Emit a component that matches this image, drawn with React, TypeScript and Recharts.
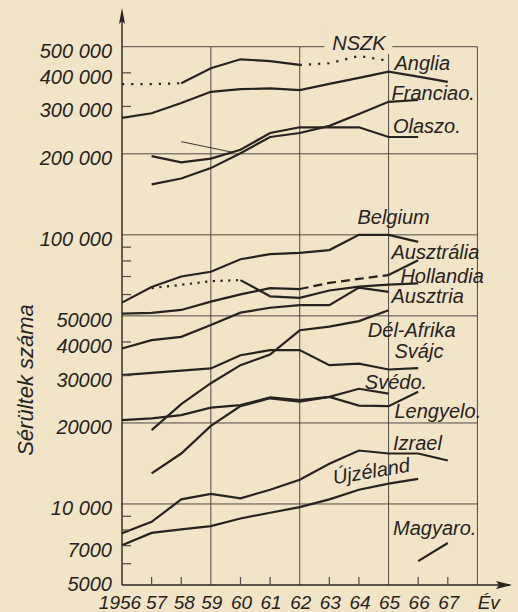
import {
  Label,
  Line,
  LineChart,
  ReferenceDot,
  ReferenceLine,
  XAxis,
  YAxis,
} from "recharts";

const evek = [1956, 1957, 1958, 1959, 1960, 1961, 1962, 1963, 1964, 1965, 1966, 1967];

// sérültek száma évenként, null = nincs adat
const nszk = [null, null, 366000, 416000, 449000, 442000, 428000, null, null, null, null, null];
const nszkBecsult = [363000, 363000, 366000, null, null, null, 428000, 434000, 462000, 443000, null, null];
const anglia = [272000, 283000, 309000, 340000, 348000, 350000, 345000, 364000, 383000, 404000, 387000, 370000];
const franciao = [null, 154000, 162000, 177000, 201000, 231000, 239000, 254000, 281000, 312000, 317000, null];
const olaszo = [null, 196000, 186000, 192000, 207000, 239000, 251000, 251000, 251000, 231000, 231000, null];
const belgium = [56000, 64000, 70000, 72900, 81200, 84800, 85700, 87800, 100000, 100000, 94200, null];
const ausztralia = [51000, 51300, 52600, 56500, 60100, 63400, 62900, null, null, 70900, 80500, null];
const ausztraliaBecsult = [null, null, null, null, null, null, 62900, 66300, 68600, 70900, null, null];
const hollandia = [null, null, null, null, 67900, 59100, 58300, 62100, 64200, 65300, 66000, null];
const hollandiaBecsult = [null, 63400, 65200, 67300, 67900, null, null, null, null, null, null, null];
const ausztria = [37800, 40600, 41800, 46200, 51400, 53600, 54800, 54800, 63700, 61400, null, null];
const delAfrika = [null, 18800, 23500, 28100, 32800, 35900, 44200, 45600, 47800, 52500, null, null];
const svajc = [30100, 30700, 31300, 31900, 35700, 37300, 37300, 32800, 33200, 31600, 32000, null];
const svedo = [20500, 20800, 21400, 22800, 23300, 24900, 24300, 25000, 26800, 25700, null, null];
const lengyelo = [null, 13000, 15400, 19500, 23100, 24700, 24000, 25000, 23200, 23100, 26100, null];
const izrael = [7790, 8580, 10400, 10900, 10500, 11300, 12300, 14100, 15800, 15400, 15400, 14500];
const ujzeland = [7020, 7810, 8050, 8270, 8830, 9280, 9730, 10400, 11300, 11900, 12400, null];
const magyaro = [null, null, null, null, null, null, null, null, null, null, 6130, 7160];

// vékony ceruzás vonás a 200 000-es szint fölött
const vekonyEvek = [1958, 1959.7];
const vekonyErtekek = [222000, 203000];

const xTickErtekek = [...evek, 1968.35];
const xTickFeliratok = ["1956", "57", "58", "59", "60", "61", "62", "63", "64", "65", "66", "67", "Év"];
const yTickErtekek = [
  500000, 400000, 300000, 200000, 100000, 90000, 80000, 70000, 60000, 50000,
  40000, 30000, 20000, 10000, 9000, 8000, 7000, 6000, 5000,
];
const yTickFeliratok = [
  "500 000", "400 000", "300 000", "200 000", "100 000", "", "", "", "", "50000",
  "40000", "30000", "20000", "10 000", "", "", "7000", "", "5000",
];
const yRacsok = [500000, 200000, 100000, 50000, 20000, 10000];
const xRacsok = [1959, 1962, 1965, 1968];

const cimkek = [
  { nev: "NSZK", ev: 1963.1, ertek: 486000 },
  { nev: "Anglia", ev: 1965.2, ertek: 410000 },
  { nev: "Franciao.", ev: 1965.1, ertek: 317000 },
  { nev: "Olaszo.", ev: 1965.15, ertek: 239000 },
  { nev: "Belgium", ev: 1963.95, ertek: 109700 },
  { nev: "Ausztrália", ev: 1965.1, ertek: 81300 },
  { nev: "Hollandia", ev: 1965.4, ertek: 66200 },
  { nev: "Ausztria", ev: 1965.1, ertek: 55800 },
  { nev: "Dél-Afrika", ev: 1964.3, ertek: 41600 },
  { nev: "Svájc", ev: 1965.2, ertek: 34800 },
  { nev: "Svédo.", ev: 1964.2, ertek: 26700 },
  { nev: "Lengyelo.", ev: 1965.2, ertek: 20900 },
  { nev: "Izrael", ev: 1965.15, ertek: 15900 },
  { nev: "Újzéland", ev: 1964.45, ertek: 12500 },
  { nev: "Magyaro.", ev: 1965.15, ertek: 7670 },
];

const sorozatok = [
  { kulcs: "nszk", ertekek: nszk },
  { kulcs: "nszkBecsult", ertekek: nszkBecsult, szaggatas: "2.2 7" },
  { kulcs: "anglia", ertekek: anglia },
  { kulcs: "franciao", ertekek: franciao },
  { kulcs: "olaszo", ertekek: olaszo },
  { kulcs: "belgium", ertekek: belgium },
  { kulcs: "ausztralia", ertekek: ausztralia },
  { kulcs: "ausztraliaBecsult", ertekek: ausztraliaBecsult, szaggatas: "9 5" },
  { kulcs: "hollandia", ertekek: hollandia },
  { kulcs: "hollandiaBecsult", ertekek: hollandiaBecsult, szaggatas: "2.2 5.5" },
  { kulcs: "ausztria", ertekek: ausztria },
  { kulcs: "delAfrika", ertekek: delAfrika },
  { kulcs: "svajc", ertekek: svajc },
  { kulcs: "svedo", ertekek: svedo },
  { kulcs: "lengyelo", ertekek: lengyelo },
  { kulcs: "izrael", ertekek: izrael },
  { kulcs: "ujzeland", ertekek: ujzeland },
  { kulcs: "magyaro", ertekek: magyaro },
];

const adatok = evek.map((ev, i) => {
  const sor: Record<string, number | null> = { ev };
  sorozatok.forEach((s) => (sor[s.kulcs] = s.ertekek[i]));
  return sor;
});

const vekonyAdat = vekonyEvek.map((ev, i) => ({ ev, v: vekonyErtekek[i] }));

const PAPIR = "#f2e4c7";
const TUS = "#27231f";
const RACS = "#4f4a44";
const betu = {
  fontFamily: "'Liberation Sans', Arial, sans-serif",
  fontStyle: "italic" as const,
  fontSize: 20,
  fill: TUS,
};

const YTick = ({ x, y, payload }: any) => {
  const i = yTickErtekek.indexOf(payload.value);
  const felirat = yTickFeliratok[i];
  const kisJel = !yRacsok.includes(payload.value) && payload.value !== 5000;
  // a legalsó felirat kicsit feljebb ül, hogy ne érjen az évszámokhoz
  const dy = payload.value === 5000 ? 6 : 11;
  return (
    <g>
      {kisJel && <line x1={x} x2={x + 9} y1={y} y2={y} stroke={RACS} strokeWidth={1.2} />}
      {felirat && (
        <text x={x - 10} y={y + dy} textAnchor="end" {...betu}>
          {felirat}
        </text>
      )}
    </g>
  );
};

const XTick = ({ x, y, payload }: any) => {
  const i = xTickErtekek.indexOf(payload.value);
  const ev = payload.value;
  const kisJel = Number.isInteger(ev) && ev <= 1967 && ![1956, 1959, 1962, 1965].includes(ev);
  const dx = ev === 1956 ? -2 : ev === 1957 ? 5 : ev === 1958 ? 3 : 1;
  return (
    <g>
      {kisJel && <line x1={x} x2={x} y1={y} y2={y - 8} stroke={RACS} strokeWidth={1.2} />}
      <text x={x + dx} y={y + 24} textAnchor="middle" {...betu} fontSize={19}>
        {xTickFeliratok[i]}
      </text>
    </g>
  );
};

const Cimke = ({ cx, cy, nev }: any) => {
  if (nev === "Újzéland") {
    return (
      <text x={cx} y={cy} textAnchor="middle" transform={`rotate(-9.5 ${cx} ${cy})`} {...betu}>
        {nev}
      </text>
    );
  }
  return (
    <g>
      {nev === "NSZK" && <rect x={cx - 8} y={cy - 20} width={68} height={24} fill={PAPIR} />}
      <text x={cx} y={cy} {...betu}>
        {nev}
      </text>
    </g>
  );
};

export default function App() {
  return (
    <div style={{ position: "absolute", left: 0, top: 0, width: 518, height: 612, background: PAPIR }}>
      <LineChart
        width={518}
        height={612}
        data={adatok}
        margin={{ top: 12, right: 8, bottom: 0, left: 0 }}
      >
        <XAxis
          dataKey="ev"
          type="number"
          domain={[1956, 1969.1]}
          ticks={xTickErtekek}
          interval={0}
          height={27}
          tickSize={0}
          tickMargin={0}
          tickLine={false}
          axisLine={{ stroke: TUS, strokeWidth: 1.4 }}
          tick={<XTick />}
        />
        <YAxis
          type="number"
          scale="log"
          domain={[5000, 673000]}
          ticks={yTickErtekek}
          interval={0}
          width={122}
          tickSize={0}
          tickMargin={0}
          tickLine={false}
          axisLine={{ stroke: TUS, strokeWidth: 1.4 }}
          tick={<YTick />}
        >
          <Label
            content={() => (
              <text
                transform="translate(33 380) rotate(-90)"
                textAnchor="middle"
                {...betu}
                fontSize={22}
              >
                Sérültek száma
              </text>
            )}
          />
        </YAxis>

        {yRacsok.map((v) => (
          <ReferenceLine
            key={`y${v}`}
            segment={[
              { x: 1956, y: v },
              { x: 1968, y: v },
            ]}
            stroke={RACS}
            strokeWidth={1}
          />
        ))}
        {xRacsok.map((ev) => (
          <ReferenceLine
            key={`x${ev}`}
            segment={[
              { x: ev, y: 5000 },
              { x: ev, y: 500000 },
            ]}
            stroke={RACS}
            strokeWidth={1}
          />
        ))}

        {sorozatok.map((s) => (
          <Line
            key={s.kulcs}
            dataKey={s.kulcs}
            type="linear"
            stroke={TUS}
            strokeWidth={2.2}
            strokeDasharray={s.szaggatas}
            dot={false}
            connectNulls={false}
            isAnimationActive={false}
          />
        ))}
        <Line
          data={vekonyAdat}
          dataKey="v"
          type="linear"
          stroke={TUS}
          strokeWidth={0.9}
          dot={false}
          isAnimationActive={false}
        />

        {cimkek.map((c) => (
          <ReferenceDot
            key={c.nev}
            x={c.ev}
            y={c.ertek}
            r={1}
            ifOverflow="visible"
            shape={(p: any) => <Cimke cx={p.cx} cy={p.cy} nev={c.nev} />}
          />
        ))}

        {/* tengelyek nyilai */}
        <ReferenceDot
          x={1956}
          y={673000}
          r={1}
          ifOverflow="visible"
          shape={(p: any) => (
            <path
              d={`M${p.cx},${p.cy - 4} L${p.cx - 3},${p.cy + 12} L${p.cx},${p.cy + 9} L${p.cx + 3},${p.cy + 12} Z`}
              fill={TUS}
            />
          )}
        />
        <ReferenceDot
          x={1969.1}
          y={5000}
          r={1}
          ifOverflow="visible"
          shape={(p: any) => (
            <path
              d={`M${p.cx + 2},${p.cy} L${p.cx - 14},${p.cy - 4} L${p.cx - 11},${p.cy} L${p.cx - 14},${p.cy + 4} Z`}
              fill={TUS}
            />
          )}
        />
      </LineChart>
    </div>
  );
}
